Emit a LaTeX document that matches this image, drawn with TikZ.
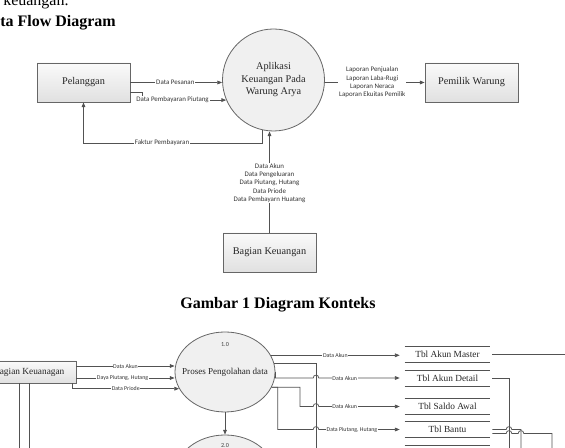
\documentclass[tikz,border=0pt]{standalone}
\usepackage{fontspec}
\setmainfont{Liberation Serif}
\newfontfamily\labfont{Carlito}
\usetikzlibrary{arrows.meta,calc,shapes.geometric}
\begin{document}
\begin{tikzpicture}[x=0.75pt,y=-0.75pt,
  ln/.style={draw=black!68, line width=0.55pt},
  arr/.style={ln,-{Triangle[length=3.6pt,width=2.8pt]}},
  box/.style={draw=black!60, line width=0.6pt, top color=black!2, bottom color=black!12,
    minimum width=69.75pt, minimum height=29.25pt, inner sep=0pt, text=black!85,
    font=\fontsize{7.7}{9}\selectfont},
  proc/.style={circle, draw=black!60, line width=0.6pt, fill=black!6, minimum size=76.5pt,
    inner sep=0pt, align=center, text=black!85, font=\fontsize{7.7}{9.4}\selectfont},
  oval/.style={ellipse, draw=black!60, line width=0.6pt, fill=black!6,
    minimum width=75pt, minimum height=60pt, inner sep=0pt},
  ptext/.style={inner sep=0pt, text=black!85, font=\fontsize{6.8}{8}\selectfont},
  num/.style={inner sep=0pt, text=black!75, font=\labfont\fontsize{4.6}{5}\selectfont},
  lbl/.style={fill=white, inner sep=0.6pt, text=black!80, align=center,
    font=\labfont\fontsize{5.2}{6.2}\selectfont},
  slbl/.style={fill=white, inner sep=0.5pt, text=black!80,
    font=\labfont\fontsize{4.4}{5.4}\selectfont},
  store/.style={minimum width=63.75pt, minimum height=12pt, inner sep=0pt, text=black!85,
    font=\fontsize{7}{8}\selectfont},
  hop/.style={to path={-- ($(\tikztotarget)+(-2.8,0)$) .. controls +(0,-3.8) and +(0,-3.8) .. ($(\tikztotarget)+(2.8,0)$)}},
  ttl/.style={font=\bfseries\fontsize{12}{14}\selectfont, inner sep=0pt}
]
\path[use as bounding box] (0,0) rectangle (565,448);
\clip (0,0) rectangle (565,448);

% heading text
\node[anchor=base west, inner sep=0pt, font=\fontsize{12}{14}\selectfont] (kt) at (3,6) {keuangan.};
\node[ttl, anchor=base west] (dfd) at (0,27) {ta Flow Diagram};

% ---------- context diagram ----------
\node[box] (pel) at (83.5,82.5) {Pelanggan};
\node[proc] (app) at (273.5,80) {Aplikasi\\Keuangan Pada\\Warung Arya};
\node[box] (pem) at (471.5,82.5) {Pemilik Warung};
\node[box] (bk) at (269.5,252.5) {Bagian Keuangan};

\draw[arr] (pel.east) -- (pel.east -| app.west) node[lbl, pos=0.49] {Data Pesanan};
\draw[arr] ([yshift=-7.5pt]pel.east) -- ++(12,0) |- (app.203) node[lbl, pos=0.68] {Data Pembayaran Piutang};
\draw[arr] (app.257.5) -- ++(0,13) -| (pel.south) node[lbl, pos=0.28] {Faktur Pembayaran};
\draw[arr] (bk.north) -- (bk.north |- app.south) node[lbl, pos=0.49]
  {Data Akun\\Data Pengeluaran\\Data Piutang, Hutang\\Data Priode\\Data Pembayarn Huatang};
\draw[arr] (app.east |- pem.west) -- (pem.west) node[lbl, pos=0.475]
  {Laporan Penjualan\\Laporan Laba-Rugi\\Laporan Neraca\\Laporan Ekuitas Pemilik};

\node[ttl] (cap) at (278,305) {Gambar 1 Diagram Konteks};

% ---------- level diagram ----------
\node[box, minimum width=70.5pt, minimum height=16.5pt, font=\fontsize{7}{8}\selectfont] (bku) at (29,372) {Bagian Keuanagan};
\node[oval] (p1) at (225,372) {};
\node[ptext] (p1t) at (p1.center) {Proses Pengolahan data};
\node[num] (n1) at (225,345) {1.0};
\node[oval] (p2) at (225,475) {};
\node[num] (n2) at (225,446) {2.0};

\node[store] (tam) at (447.5,354.5) {Tbl Akun Master};
\node[store] (tad) at (447.5,378.5) {Tbl Akun Detail};
\node[store] (tsa) at (447.5,406.5) {Tbl Saldo Awal};
\node[store] (tbb) at (447.5,429.5) {Tbl Bantu};
\node[store] (tbx) at (447.5,454) {};
\foreach \s in {tam,tad,tsa,tbb,tbx}
  \draw[ln] (\s.north west) -- (\s.north east) (\s.south west) -- (\s.south east);

\coordinate (d1) at (19,470);
\coordinate (d2) at (29,470);
\coordinate (v1) at (316,470);
\coordinate (k1) at (300,400);
\coordinate (v2) at (575,354.5);
\coordinate (v3) at (509,470);
\coordinate (v4) at (521,470);
\coordinate (v5) at (552,470);

\draw[arr] ([yshift=4.5pt]bku.east) coordinate (s1) -- (s1 -| p1.west) node[slbl, pos=0.5] {Data Akun};
\draw[arr] ([yshift=-4.5pt]bku.east) coordinate (s2) -- (s2 -| p1.west) node[slbl, pos=0.47] {Daya Piutang, Hutang};
\draw[arr] ([xshift=-3pt]bku.south east) |- (p1.200) node[slbl, pos=0.75] {Data Priode};
\draw[ln] (bku.south -| d1) -- (d1);
\draw[ln] (bku.south -| d2) -- (d2);

\draw[arr] (p1.south) -- (p2.north);

\draw[arr] (p1.20) -- ($(p1.20 -| tam.west)+(-5,0)$) node[slbl, pos=0.5] {Data Akun};
\draw[ln] (p1.10) -| (v1);
\draw[arr] (p1.east) -- ++(0,6) coordinate (c2) to[hop] (c2 -| v1)
  -- ($(c2 -| tad.west)+(-5,0)$) node[slbl, pos=0.32] {Data Akun};
\draw[arr] (p1.342) -| (k1 |- tsa.west) coordinate (c3) to[hop] (c3 -| v1)
  -- ($(c3 -| tsa.west)+(-5,0)$) node[slbl, pos=0.32] {Data Akun};
\draw[arr] (p1.342) -- ++(6,0) coordinate (c4a) -- (c4a |- tbb.west) coordinate (c4) to[hop] (c4 -| v1)
  -- ($(c4 -| tbb.west)+(-5,0)$) node[slbl, pos=0.41] {Data Piutang, Hutang};

\draw[ln] ([xshift=1.5pt]tam.east) -- (tam.east -| v2);
\draw[ln] ([xshift=1.5pt]tad.east) -| (v3);
\draw[ln] ([xshift=1.5pt]tbb.east) coordinate (c5) to[hop] (c5 -| v3) -| (v4);
\draw[ln] ([xshift=1.5pt,yshift=-3pt]tbb.east) coordinate (c6) to[hop] (c6 -| v3) to[hop] (c6 -| v4) -| (v5);
\end{tikzpicture}
\end{document}
